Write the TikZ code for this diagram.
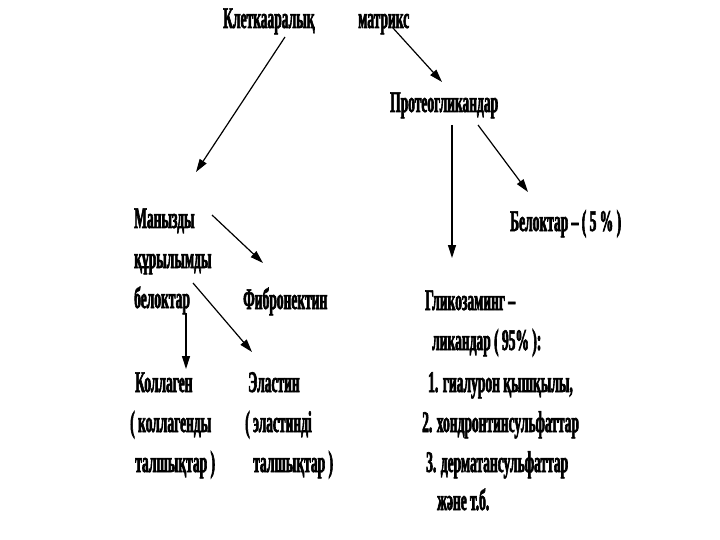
\documentclass[tikz,border=0pt]{standalone}
\usepackage{fontspec}
\setmainfont{Liberation Serif}
\newfontfamily\narrowfont[FakeStretch=0.45,FakeBold=2]{Liberation Serif}
\usetikzlibrary{arrows.meta}

\tikzset{
  lbl/.style={anchor=base west,inner sep=0pt,font=\narrowfont\bfseries\fontsize{30}{34}\selectfont},
  link/.style={-{Triangle[length=13pt,width=8pt]},line width=1.2pt},
}

\begin{document}
\begin{tikzpicture}[x=1pt,y=-1pt]
  \useasboundingbox (0,0) rectangle (720,540);
  % top
  \node[lbl] (kl) at (223,28) {Клеткааралық};
  \node[lbl] (mx) at (358,28) {матрикс};
  \node[lbl] (pg) at (390,112) {Протеогликандар};
  \node[lbl] (bel) at (510,231) {Белоктар – ( 5 \% )};
  % left column
  \node[lbl] (man1) at (134,228) {Манызды};
  \node[lbl] (man2) at (134,268) {құрылымды};
  \node[lbl] (man3) at (134,308) {белоктар};
  \node[lbl] (fib) at (243,309) {Фибронектин};
  \node[lbl] (kol1) at (135,392) {Коллаген};
  \node[lbl] (kol2) at (130,432) {( коллагенды};
  \node[lbl] (kol3) at (135,472) {талшықтар )};
  \node[lbl] (el1) at (248,392) {Эластин};
  \node[lbl] (el2) at (245,432) {( эластинді};
  \node[lbl] (el3) at (253,472) {талшықтар )};
  % right column
  \node[lbl] (gag1) at (425,310) {Гликозаминг –};
  \node[lbl] (gag2) at (432,350) {ликандар ( 95\% ):};
  \node[lbl] (g1) at (428,392) {1. гиалурон қышқылы,};
  \node[lbl] (g2) at (422,432) {2. хондронтинсульфаттар};
  \node[lbl] (g3) at (426,472) {3. дерматансульфаттар};
  \node[lbl] (g4) at (437,510) {және т.б.};

  % arrow ends
  \coordinate (klout) at (285,37);
  \coordinate (manin) at (196,172);
  \coordinate (mxout) at (393,28);
  \coordinate (pgin) at (442,82);
  \coordinate (pgdown) at (452,125);
  \coordinate (gagin) at (452,258);
  \coordinate (pgright) at (478,125);
  \coordinate (belin) at (528,192);
  \coordinate (manfib) at (212,215);
  \coordinate (fibin) at (263,263);
  \coordinate (manel) at (193,283);
  \coordinate (elin) at (252,352);
  \coordinate (mankol) at (186,313);
  \coordinate (kolin) at (186,369);

  \draw[link] (klout) -- (manin);
  \draw[link] (mxout) -- (pgin);
  \draw[link] (pgdown) -- (gagin);
  \draw[link] (pgright) -- (belin);
  \draw[link] (manfib) -- (fibin);
  \draw[link] (manel) -- (elin);
  \draw[link] (mankol) -- (kolin);
\end{tikzpicture}
\end{document}
